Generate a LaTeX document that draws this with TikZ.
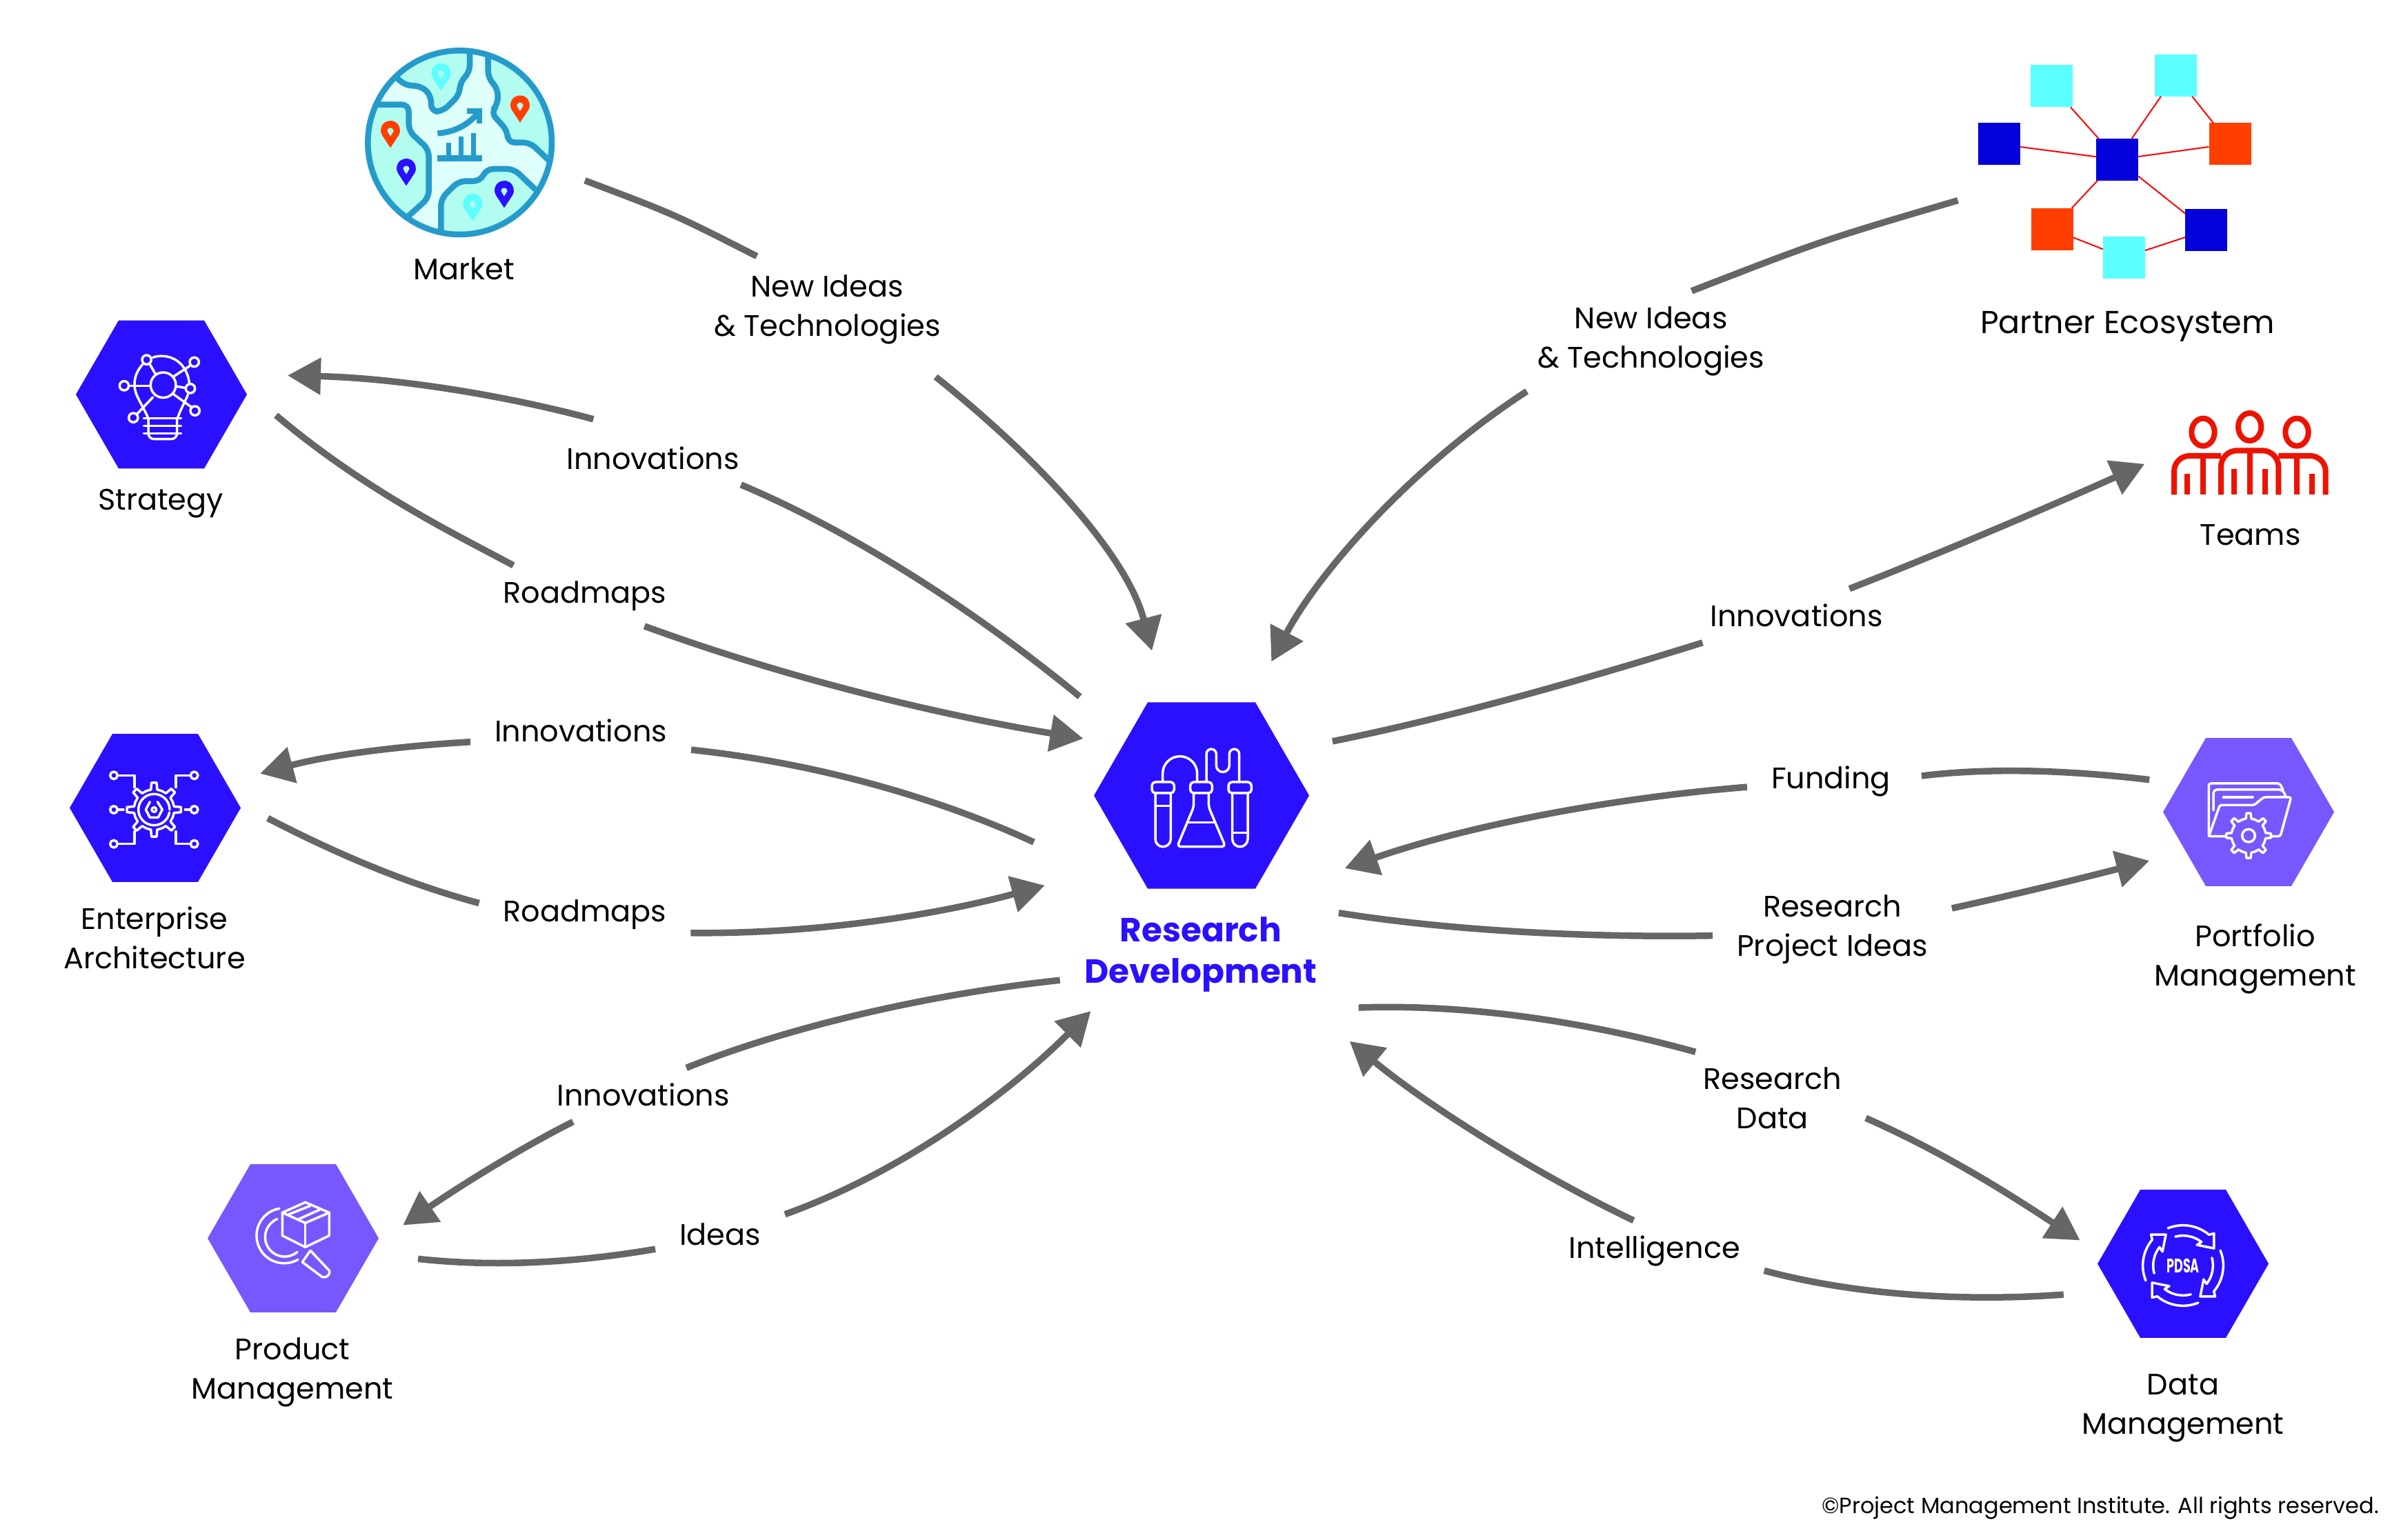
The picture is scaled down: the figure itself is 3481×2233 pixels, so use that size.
\documentclass[tikz,border=0pt]{standalone}
\usepackage{fontspec}
\setmainfont{Poppins}
\usetikzlibrary{shapes.geometric,arrows.meta}
\definecolor{hubdark}{HTML}{2B10FF}
\definecolor{hublight}{HTML}{7857FF}
\definecolor{flowgray}{HTML}{666666}
\definecolor{mapline}{HTML}{259BCB}
\definecolor{mapsea}{HTML}{DFFFFB}
\definecolor{mapland}{HTML}{B3FCF0}
\definecolor{ecocyan}{HTML}{5CFFFF}
\definecolor{ecoblue}{HTML}{0400D9}
\definecolor{ecoorange}{HTML}{FF3F00}
\definecolor{teamred}{HTML}{EC1300}
\tikzstyle{hub}=[regular polygon,regular polygon sides=6,inner sep=0,outer sep=0,minimum size=49.6pt]
\tikzstyle{flow}=[draw=flowgray,line width=1.9pt]
\tikzstyle{flowarrow}=[flow,-{Triangle[length=9.6pt,width=10.4pt]}]
\tikzstyle{lbl}=[align=center,inner xsep=7pt,inner ysep=4.5pt,outer sep=0,font=\fontsize{8.6}{11.4}\selectfont]
\tikzstyle{hubname}=[align=center,inner sep=0,font=\fontsize{8.6}{11.4}\selectfont]
\tikzstyle{ic}=[draw=white,line width=.7pt,line join=round,line cap=round]
\tikzstyle{ecobox}=[rectangle,inner sep=0,outer sep=0,minimum size=12.2pt]
\tikzstyle{ecolink}=[draw=red,line width=.4pt]
\newcommand{\mappin}[3]{%
\begin{scope}[shift={(#1,#2)}]
\fill[#3] (0,76) -- (33:42) arc (33:-213:42) -- cycle;
\fill[mapland] (-14,3) arc (180:360:14) -- (0,26) -- cycle;
\end{scope}}
\newcommand{\gearicon}[5]{%
\begin{scope}[shift={(#1,#2)}]
\foreach \t in {0,#5,...,359}
\draw[ic] ({\t-.5*#5}:#3) -- ({\t-.2*#5}:#3) -- ({\t-.12*#5}:#4) -- ({\t+.12*#5}:#4) -- ({\t+.2*#5}:#3) -- ({\t+.5*#5}:#3);
\end{scope}}

\begin{document}
\begin{tikzpicture}[x=0.2pt,y=-0.2pt]
%%position
\useasboundingbox (0,0) rectangle (3481,2233);
%%hubs
\node[hub,fill=hubdark,minimum size=62.4pt] (rd) at (1742,1153.5) {};
\node[hub,fill=hubdark] (strategy) at (234,572) {};
\node[hub,fill=hubdark] (arch) at (225,1171.5) {};
\node[hub,fill=hublight] (product) at (425,1795.5) {};
\node[hub,fill=hublight] (portfolio) at (3260,1177.5) {};
\node[hub,fill=hubdark] (data) at (3165,1832.5) {};
\begin{scope}[scale=.9953]
%%name
\path (676,392) node[hubname] (marketname) {Market};
\path (234,734) node[hubname] (strategyname) {Strategy};
\path (225,1366) node[hubname] (archname) {Enterprise\\Architecture};
\path (426,1999) node[hubname] (productname) {Product\\Management};
\path (3099,476) node[hubname,font=\fontsize{9.2}{11.4}\selectfont] (partnername) {Partner Ecosystem};
\path (3278,779) node[hubname] (teamsname) {Teams};
\path (3285,1397) node[hubname] (portfolioname) {Portfolio\\Management};
\path (3180,2051) node[hubname] (dataname) {Data\\Management};
\path (1749,1391) node[hubname,text=hubdark,font=\fontsize{9.7}{12}\selectfont\bfseries] (rdname) {Research\\Development};
\path (3466,2197) node[hubname,anchor=east,font=\fontsize{6.4}{7}\selectfont] (rights) {©Project Management Institute. All rights reserved.};
%%flow labels
\path (1205,451) node[lbl] (newL) {New Ideas\\\& Technologies};
\path (951,667) node[lbl] (innovS) {Innovations};
\path (852,868) node[lbl] (roadS) {Roadmaps};
\path (846,1064) node[lbl] (innovA) {Innovations};
\path (852,1332) node[lbl] (roadA) {Roadmaps};
\path (937,1595) node[lbl] (innovP) {Innovations};
\path (1049,1798) node[lbl] (ideasP) {Ideas};
\path (2405,497) node[lbl] (newR) {New Ideas\\\& Technologies};
\path (2617,897) node[lbl] (innovT) {Innovations};
\path (2667,1138) node[lbl] (fund) {Funding};
\path (2669,1354) node[lbl] (ideasR) {Research\\Project Ideas};
\path (2582,1600) node[lbl] (resD) {Research\\Data};
\path (2410,1823) node[lbl] (intel) {Intelligence};
%%flow ends
\coordinate (a1) at (852,263);
\coordinate (a2) at (1678,948);
\coordinate (b1) at (419,547);
\coordinate (b2) at (1573,1015);
\coordinate (c1) at (402,605);
\coordinate (c2) at (1578,1076);
\coordinate (d1) at (379,1127);
\coordinate (d2) at (1506,1227);
\coordinate (e1) at (390,1192);
\coordinate (e2) at (1522,1290);
\coordinate (f1) at (587,1785);
\coordinate (f2) at (1544,1428);
\coordinate (g1) at (609,1834);
\coordinate (g2) at (1589,1473);
\coordinate (h1) at (2852,292);
\coordinate (h2) at (1852,964);
\coordinate (i1) at (1941,1080);
\coordinate (i2) at (3124,676);
\coordinate (j1) at (3131,1136);
\coordinate (j2) at (1959,1265);
\coordinate (k1) at (1950,1330);
\coordinate (k2) at (3131,1254);
\coordinate (l1) at (1979,1468);
\coordinate (l2) at (3030,1807);
\coordinate (m1) at (3006,1886);
\coordinate (m2) at (1966,1517);
%%flows left
\draw[flow,shorten >=2pt] (a1) .. controls (982,312) .. (newL.142);
\draw[flowarrow,shorten <=8pt] (newL.-30) .. controls (1500,658) and (1640,803) .. (a2);
\draw[flowarrow,shorten <=13pt] (innovS.121) .. controls (736,576) and (580,551) .. (b1);
\draw[flow] (b2) .. controls (1383,859) and (1205,759) .. (innovS.-17);
\draw[flow] (c1) .. controls (536,718) and (669,781) .. (roadS.157);
\draw[flowarrow] (roadS.-27) .. controls (1160,993) and (1383,1044) .. (c2);
\draw[flowarrow] (innovA.186) .. controls (580,1087) and (480,1100) .. (d1);
\draw[flow] (d2) .. controls (1361,1160) and (1183,1111) .. (innovA.-10);
\draw[flow] (e1) .. controls (502,1250) and (602,1290) .. (roadA.174);
\draw[flowarrow] (roadA.-10) .. controls (1205,1361) and (1383,1328) .. (e2);
\draw[flowarrow] (innovP.201) .. controls (748,1678) and (658,1736) .. (f1);
\draw[flow] (f2) .. controls (1339,1450) and (1138,1500) .. (innovP.32);
\draw[flow] (g1) .. controls (736,1848) and (859,1836) .. (ideasP.193);
\draw[flowarrow] (ideasP.17) .. controls (1317,1707) and (1473,1589) .. (g2);
%%flows right
\draw[flow] (h1) .. controls (2655,350) .. (newR.51);
\draw[flowarrow] (newR.202) .. controls (2053,681) and (1919,837) .. (h2);
\draw[flow] (i1) .. controls (2120,1044) and (2321,986) .. (innovT.196);
\draw[flowarrow] (innovT.27) .. controls (2834,803) and (2990,736) .. (i2);
\draw[flow,shorten >=2pt] (j1) .. controls (3012,1122) and (2901,1118) .. (fund.3);
\draw[flowarrow] (fund.184) .. controls (2321,1165) and (2120,1209) .. (j2);
\draw[flow] (k1) .. controls (2120,1357) and (2321,1366) .. (ideasR.183);
\draw[flowarrow] (ideasR.10) .. controls (2945,1301) and (3046,1276) .. (k2);
\draw[flow] (l1) .. controls (2142,1462) and (2321,1491) .. (resD.149);
\draw[flowarrow] (resD.-12) .. controls (2845,1685) and (2945,1752) .. (l2);
\draw[flow] (m1) .. controls (2856,1897) and (2700,1886) .. (intel.-10);
\draw[flowarrow] (intel.124) .. controls (2231,1707) and (2075,1607) .. (m2);
\end{scope}
%%market
\begin{scope}[shift={(480,30)},scale=1/3]
\fill[mapsea] (560,530) circle (400);
\begin{scope}
\clip (560,530) circle (400);
\begin{scope}[draw=mapline,fill=mapland,line width=1.7pt,rounded corners=2pt]
\filldraw (270,235) -- (325,283) -- (390,283) -- (435,325) -- (435,395) -- (485,395) -- (560,320) -- (560,268) -- (603,225) -- (603,60) -- (200,60) -- cycle;
\filldraw (683,60) -- (683,250) -- (725,295) -- (725,365) -- (695,400) -- (768,480) -- (768,530) -- (865,530) -- (960,620) -- (1020,620) -- (1020,60) -- cycle;
\filldraw (100,365) -- (338,365) -- (338,480) -- (425,560) -- (425,770) -- (320,865) -- (100,865) -- cycle;
\filldraw (478,1000) -- (478,775) -- (555,698) -- (650,698) -- (675,645) -- (795,645) -- (905,750) -- (1020,750) -- (1020,1000) -- cycle;
\end{scope}
\end{scope}
\draw[mapline,line width=1.7pt] (560,530) circle (400);
\draw[mapline,line width=1.7pt] (463,490) .. controls (540,485) and (600,450) .. (640,400);
\draw[mapline,line width=1.7pt] (590,393) -- (645,393) -- (645,448);
\draw[mapline,line width=1.7pt] (463,598) -- (658,598);
\foreach \barx/\bartop in {510/530,565/505,618/490}
\draw[mapline,line width=1.4pt] (\barx,\bartop) -- (\barx,590);
\mappin{822}{367}{ecoorange}
\mappin{478}{228}{ecocyan}
\mappin{258}{477}{ecoorange}
\mappin{327}{642}{hubdark}
\mappin{616}{795}{ecocyan}
\mappin{753}{738}{hubdark}
\end{scope}
%%partner ecosystem
\node[ecobox,fill=ecocyan] (ecoA) at (2974.7,125) {};
\node[ecobox,fill=ecocyan] (ecoB) at (3154,109.3) {};
\node[ecobox,fill=ecoblue] (ecoL) at (2898.3,209) {};
\node[ecobox,fill=ecoblue] (ecoC) at (3069.7,231.3) {};
\node[ecobox,fill=ecoorange] (ecoR) at (3233,208.7) {};
\node[ecobox,fill=ecoorange] (ecoD) at (2975,332.3) {};
\node[ecobox,fill=ecocyan] (ecoE) at (3079.3,373.3) {};
\node[ecobox,fill=ecoblue] (ecoF) at (3198.7,334) {};
\foreach \from/\to in {ecoA/ecoC,ecoB/ecoC,ecoB/ecoR,ecoL/ecoC,ecoC/ecoR,ecoC/ecoD,ecoC/ecoF,ecoD/ecoE,ecoE/ecoF}
\draw[ecolink] (\from) -- (\to);
%%teams
\begin{scope}[shift={(3120,580)},scale=1/3,draw=teamred,line width=1.6pt]
\draw (222,140) ellipse (50 and 60);
\draw (425,117) ellipse (50 and 60);
\draw (630,140) ellipse (50 and 60);
\draw (96,412) -- (96,310) arc (180:270:67) -- (300,243);
\draw (300,412) -- (300,290) arc (180:270:70) -- (480,220) arc (270:360:70) -- (550,412);
\draw (550,243) -- (688,243) arc (270:360:67) -- (755,412);
\foreach \barx/\bartop in {153/322,222/243,358/300,425/220,493/300,630/243,697/322}
\draw (\barx,\bartop) -- (\barx,412);
\end{scope}
%%strategy icon
\begin{scope}[shift={(90,440)},scale=1/3]
\draw[ic] (440,355) circle (55);
\foreach \px/\py in {368/245,575/255,270/358,558/370,310/497,578/467}
\draw[ic] (\px,\py) circle (20);
\draw[ic] (395,235) .. controls (450,215) and (540,240) .. (553,345);
\draw[ic] (350,265) .. controls (325,295) and (315,320) .. (315,355) .. controls (315,400) and (350,440) .. (375,500);
\draw[ic] (548,395) .. controls (535,430) and (515,460) .. (502,500);
\foreach \py in {500,532,565}
\draw[ic] (355,\py) -- (518,\py);
\draw[ic] (375,500) -- (375,565) arc (180:90:25) -- (475,590) arc (90:0:25) -- (500,500);
\draw[ic] (382,265) -- (405,305);
\draw[ic] (485,318) -- (558,270);
\draw[ic] (495,360) -- (538,368);
\draw[ic] (385,358) -- (290,358);
\draw[ic] (395,408) -- (325,482);
\draw[ic] (485,395) -- (564,452);
\end{scope}
%%architecture icon
\begin{scope}[shift={(80,1040)},scale=1/3]
\gearicon{430}{402}{88}{118}{45}
\draw[ic] (498,402) arc (0:-350:68);
\draw[ic] (445,368) -- (466,402) -- (448,436) -- (412,436) -- (394,402) -- (412,368);
\draw[ic] (430,402) circle (10);
\foreach \px/\py in {255/253,605/253,255/402,605/402,255/551,605/551}
\draw[ic] (\px,\py) circle (16);
\draw[ic] (345,305) -- (345,253) -- (272,253);
\draw[ic] (525,305) -- (525,253) -- (588,253);
\draw[ic] (275,402) -- (297,402);
\draw[ic] (565,402) -- (587,402);
\draw[ic] (345,497) -- (345,551) -- (272,551);
\draw[ic] (525,497) -- (525,551) -- (588,551);
\end{scope}
%%research icon
\begin{scope}[shift={(1570,1000)},scale=1/3]
\draw[ic,rounded corners=1pt] (300,402) rectangle (397,450);
\draw[ic,rounded corners=1pt] (467,402) rectangle (562,450);
\draw[ic,rounded corners=1pt] (633,402) rectangle (733,450);
\draw[ic] (315,450) -- (315,650) arc (180:0:33.5) -- (382,450);
\draw[ic] (315,505) -- (382,505);
\draw[ic] (650,450) -- (650,650) arc (180:0:33.5) -- (717,450);
\draw[ic] (650,622) -- (717,622);
\draw[ic,rounded corners=1pt] (482,450) -- (482,510) -- (410,683) -- (620,683) -- (547,510) -- (547,450);
\draw[ic] (460,577) -- (570,577);
\draw[ic] (347,402) -- (347,365) arc (180:360:75) -- (497,402);
\draw[ic] (537,402) -- (537,280) arc (180:360:21.5) -- (580,330) arc (180:0:28.5) -- (637,280) arc (180:360:21.5) -- (680,402);
\end{scope}
%%product icon
\begin{scope}[shift={(290,1670)},scale=1/3]
\draw[ic] (458,220) -- (562,265) -- (458,310) -- (358,265) -- cycle;
\draw[ic] (358,265) -- (358,365) -- (458,415) -- (562,365) -- (562,265);
\draw[ic] (458,310) -- (458,415);
\draw[ic] (380,275) -- (480,235);
\draw[ic] (425,295) -- (525,250);
\draw[ic] (345,247) arc (260:60:120);
\draw[ic] (335,293) arc (247:50:85);
\draw[ic] (445,480) -- (480,430) -- (563,518) arc (-10:110:24) -- cycle;
\end{scope}
%%portfolio icon
\begin{scope}[shift={(3140,1060)},scale=1/3]
\draw[ic,rounded corners=.6pt] (260,458) -- (187,458) -- (187,228) -- (495,228) -- (510,255);
\draw[ic,rounded corners=1pt] (207,345) -- (207,255) -- (510,255) -- (522,288);
\draw[ic,rounded corners=.6pt] (187,458) -- (235,322) -- (385,322) -- (425,288) -- (545,288) -- (498,458) -- (455,458);
\draw[ic] (250,288) -- (378,288);
\gearicon{360}{455}{75}{98}{45}
\draw[ic] (360,455) circle (28);
\end{scope}
%%data icon
\begin{scope}[shift={(3040,1720)},scale=1/3]
\foreach \turn in {0,90,180,270}{
\begin{scope}[shift={(375,345)},rotate=\turn]
\draw[ic] (-112:175) arc (-112:-50:175) -- (-46:194) -- (-29:154) -- (-56:108) -- (-52:130) arc (-52:-105:130);
\end{scope}
}
\end{scope}
\node[inner sep=0,text=white,font=\fontsize{5.7}{7}\selectfont\bfseries] (pdsa) at (3165,1835) {\scalebox{.62}[1]{PDSA}};
\end{tikzpicture}
\end{document}
